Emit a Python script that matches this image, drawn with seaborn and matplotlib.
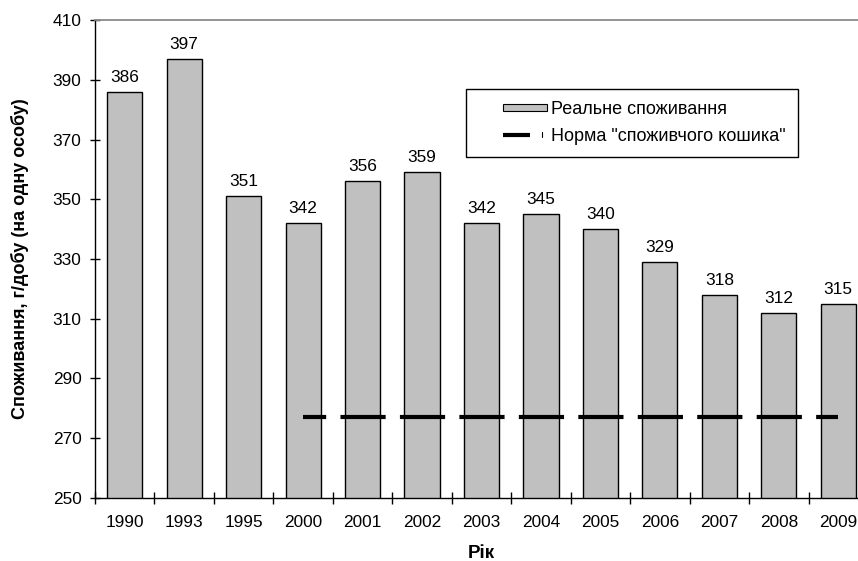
import matplotlib
matplotlib.use("Agg")
import matplotlib.pyplot as plt
from matplotlib.patches import Rectangle
from matplotlib.lines import Line2D
import seaborn as sns
import pandas as pd

# --- data -------------------------------------------------------------
years = ["1990", "1993", "1995", "2000", "2001", "2002", "2003",
         "2004", "2005", "2006", "2007", "2008", "2009"]
consumption = [386, 397, 351, 342, 356, 359, 342, 345, 340, 329, 318, 312, 315]

norm_years = ["2000", "2001", "2002", "2003", "2004",
              "2005", "2006", "2007", "2008", "2009"]
norm_values = [277, 277, 277, 277, 277, 277, 277, 277, 277, 277]

y_ticks = [250, 270, 290, 310, 330, 350, 370, 390, 410]

bar_label_text = "Реальне споживання"
norm_label_text = 'Норма "споживчого кошика"'
x_title = "Рік"
y_title = "Споживання, г/добу (на одну особу)"

# --- style ------------------------------------------------------------
sns.set_theme(style="white")
plt.rcParams["font.family"] = ["Liberation Sans", "DejaVu Sans"]
plt.rcParams["lines.scale_dashes"] = False

BAR_GREY = "#c0c0c0"
DPI = 100
W, H = 858, 561
TICK_FS = 12.4

fig = plt.figure(figsize=(W / DPI, H / DPI), dpi=DPI)
fig.patch.set_facecolor("white")
# plot area runs a little past the right edge of the canvas
ax = fig.add_axes([95 / W, 63 / H, 773 / W, 478 / H])
ax.set_facecolor("white")

bars_df = pd.DataFrame({"year": years, "value": consumption})
sns.barplot(data=bars_df, x="year", y="value", order=years,
            color=BAR_GREY, saturation=1, width=0.59,
            edgecolor="black", linewidth=1.0, ax=ax)

norm_df = pd.DataFrame({"year": norm_years, "value": norm_values})
sns.pointplot(data=norm_df, x="year", y="value", order=years,
              color="black", marker="", linestyle="-", errorbar=None,
              ax=ax)

ax.set_xlim(-0.5, len(years) - 0.5)
ax.set_ylim(y_ticks[0], y_ticks[-1])

# long-dash pattern for the norm line, one dash per category step
norm_line = [ln for ln in ax.lines if len(ln.get_xdata()) == len(norm_years)][0]
step_pt = (ax.transData.transform((1, 0))[0]
           - ax.transData.transform((0, 0))[0]) * 72 / DPI
norm_line.set_linewidth(3.0)
norm_line.set_linestyle((0.37 * step_pt, (0.76 * step_pt, 0.24 * step_pt)))
norm_line.set_dash_capstyle("butt")
norm_line.set_zorder(4)

# value labels above the bars
ax.bar_label(ax.containers[0], labels=[str(v) for v in consumption],
             padding=5, fontsize=TICK_FS, color="black")

# ticks
ax.set_yticks(y_ticks)
ax.set_yticklabels([str(t) for t in y_ticks])
ax.tick_params(axis="y", which="major", direction="inout", length=7.5,
               width=1, color="black", labelsize=TICK_FS, pad=6,
               labelcolor="black", left=True)
ax.set_xticks(range(len(years)))
ax.set_xticklabels(years)
ax.set_xticks([i - 0.5 for i in range(len(years) + 1)], minor=True)
ax.tick_params(axis="x", which="major", length=0, labelsize=TICK_FS, pad=12,
               labelcolor="black")
ax.tick_params(axis="x", which="minor", direction="inout", length=8.5,
               width=1, color="black", bottom=True)

# spines
for side in ("left", "bottom"):
    ax.spines[side].set_color("black")
    ax.spines[side].set_linewidth(1.0)
ax.spines["top"].set_color("#8a8a8a")
ax.spines["top"].set_linewidth(1.3)
ax.spines["right"].set_visible(False)
ax.grid(False)

# axis titles
ax.set_xlabel(x_title, fontsize=13.5, fontweight="bold", color="black")
ax.xaxis.set_label_coords(0.5, -0.098)
ax.set_ylabel(y_title, fontsize=13, fontweight="bold", color="black")
ax.yaxis.set_label_coords(-0.085, 0.5)


# legend keys sit at the right end of a wide key area
class KeyHandler:
    def __init__(self, kind):
        self.kind = kind

    def legend_artist(self, legend, orig_handle, fontsize, handlebox):
        x0 = -handlebox.xdescent
        y0 = -handlebox.ydescent
        w = handlebox.width
        h = handlebox.height
        key_w = 31.7
        start = x0 + w - key_w
        yc = y0 + h / 2
        tr = handlebox.get_transform()
        if self.kind == "patch":
            art = Rectangle((start, yc - 2.5), key_w, 5.0,
                            facecolor=BAR_GREY, edgecolor="black",
                            linewidth=0.8, transform=tr)
            handlebox.add_artist(art)
            return art
        art = Line2D([start, start + 19.4], [yc, yc], color="black",
                     linewidth=3.0, solid_capstyle="butt", transform=tr)
        tick = Line2D([x0 + w - 3.6, x0 + w - 3.6], [yc - 1.8, yc + 1.8],
                      color="black", linewidth=0.8, transform=tr)
        handlebox.add_artist(art)
        handlebox.add_artist(tick)
        return art


patch_proxy = Rectangle((0, 0), 1, 1)
line_proxy = Line2D([], [])
leg = ax.legend([patch_proxy, line_proxy], [bar_label_text, norm_label_text],
                handler_map={patch_proxy: KeyHandler("patch"),
                             line_proxy: KeyHandler("line")},
                loc="upper left", bbox_to_anchor=(466 / W, 1 - 89 / H),
                bbox_transform=fig.transFigure, borderaxespad=0,
                fontsize=13, handlelength=3.85, handletextpad=0.22,
                borderpad=0.65, labelspacing=0.58, frameon=True,
                fancybox=False, shadow=False, framealpha=1,
                edgecolor="black", facecolor="white")
leg.get_frame().set_linewidth(1.0)
for t in leg.get_texts():
    t.set_color("black")

fig.savefig("out.png", dpi=DPI, facecolor="white")
